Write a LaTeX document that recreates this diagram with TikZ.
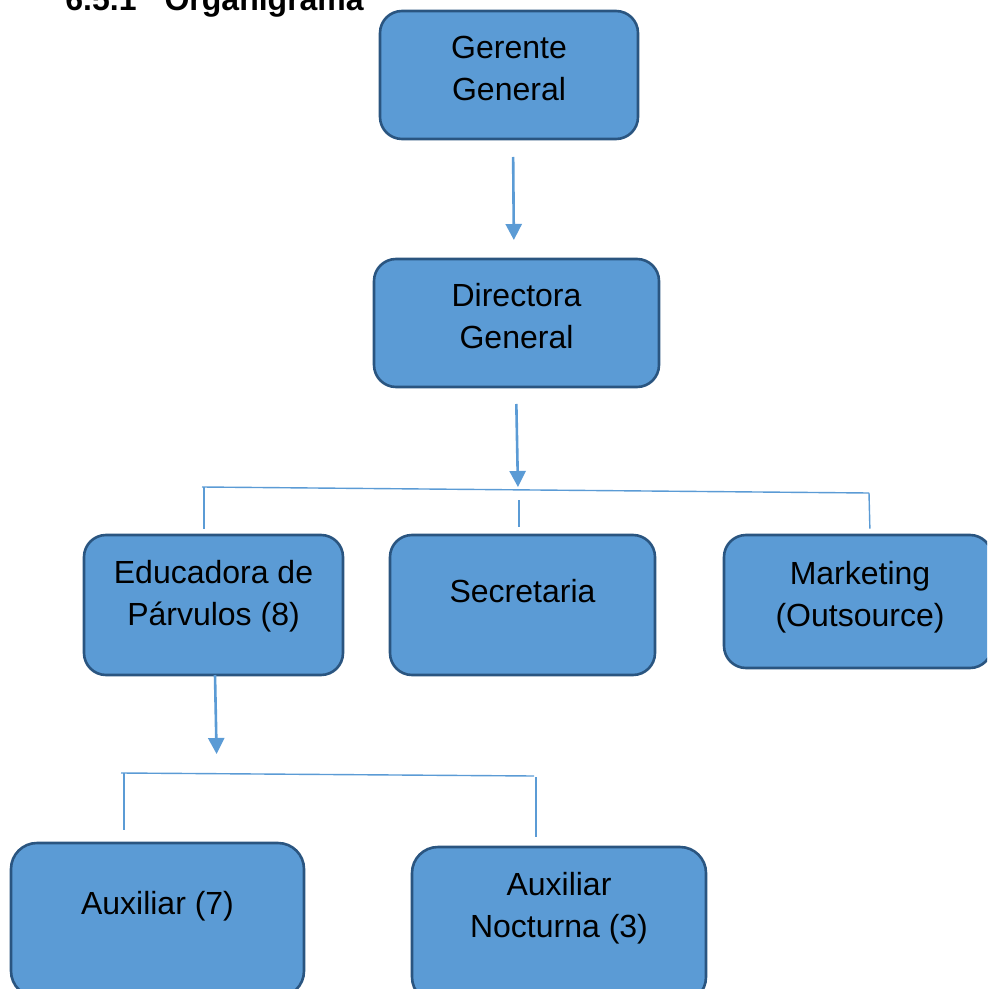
\documentclass[tikz,border=0pt]{standalone}
\usepackage{fontspec}
\setmainfont{Liberation Sans}
\usepackage{tikz}
\usetikzlibrary{arrows.meta, positioning, calc}
\usepackage{xcolor}
\definecolor{boxfill}{HTML}{5B9BD5}
\definecolor{boxline}{HTML}{2A5580}
\definecolor{linkblue}{HTML}{5B9BD5}

\begin{document}
\begin{tikzpicture}[
    x=0.5pt, y=-0.5pt,
    >={Triangle[width=8pt, length=8pt]},
    orgbox/.style={draw=boxline, fill=boxfill, line width=1.3pt, rounded corners=11pt, inner sep=0pt},
    boxtext/.style={align=center, font=\fontsize{16pt}{21pt}\selectfont, inner sep=0pt},
    arrowlink/.style={->, draw=linkblue, line width=1.3pt},
    buslink/.style={draw=linkblue, line width=0.7pt},
  ]
    \clip (0,0) rectangle (987,989);
    % titulo
    \node[anchor=base west, font=\fontsize{16pt}{19pt}\selectfont\bfseries, inner sep=0pt] (title) at (65,11) {6.5.1\hspace{14pt}Organigrama};
    % cajas
    \node[orgbox, minimum width=129pt, minimum height=64pt, label={[boxtext, yshift=3.5pt]center:Gerente\\General}] (gerente) at (509,75) {};
    \node[orgbox, minimum width=142.5pt, minimum height=64pt, label={[boxtext, yshift=3.5pt]center:Directora\\General}] (directora) at (516.5,323) {};
    \node[orgbox, minimum width=129.5pt, minimum height=70pt, label={[boxtext, yshift=4.5pt]center:Educadora de\\Párvulos (8)}] (educadora) at (213.5,605) {};
    \node[orgbox, minimum width=132.5pt, minimum height=70pt, label={[boxtext, yshift=7pt]center:Secretaria}] (secretaria) at (522.5,605) {};
    \node[orgbox, minimum width=134pt, minimum height=66.5pt, label={[boxtext, yshift=2pt, xshift=1pt]center:Marketing\\(Outsource)}] (marketing) at (858,601.5) {};
    \node[orgbox, minimum width=146.5pt, minimum height=77pt, rounded corners=13pt, label={[boxtext, yshift=7pt]center:Auxiliar (7)}] (auxiliar) at (157.5,920) {};
    \node[orgbox, minimum width=147pt, minimum height=78pt, rounded corners=13pt, label={[boxtext, yshift=8.5pt]center:Auxiliar\\Nocturna (3)}] (nocturna) at (559,925) {};
    % puntos de las lineas
    \coordinate (g1) at (513,139);
    \coordinate (d1) at (514,259);
    \coordinate (d2) at (516,387);
    \coordinate (busA) at (518,490);
    \coordinate (busL) at (202,487);
    \coordinate (busR) at (869,493);
    \coordinate (e1) at (215,675);
    \coordinate (busB) at (217,774);
    \coordinate (busBL) at (121,773);
    \coordinate (busBR) at (534,776);
    % flechas
    \draw[arrowlink, shorten <=9pt, shorten >=9.5pt] (g1) -- (d1);
    \draw[arrowlink, shorten <=8.5pt, shorten >=1.5pt] (d2) -- (busA);
    \draw[arrowlink, shorten >=10pt] (e1) -- (busB);
    % lineas
    \draw[buslink] (busL) -- (busR);
    \draw[buslink, shorten >=2.5pt] (busL -| 204,0) -- (educadora.north -| 204,0);
    \draw[buslink, shorten <=5pt, shorten >=3.5pt] (519,490) -- (secretaria.north -| 519,0);
    \draw[buslink, shorten >=2.5pt] (busR) -- (marketing.north -| 870,0);
    \draw[buslink] (busBL) -- (busBR);
    \draw[buslink, shorten >=6pt] (busBL -| 124,0) -- (auxiliar.north -| 124,0);
    \draw[buslink, shorten >=4.5pt] (536,777) -- (nocturna.north -| 536,0);
\end{tikzpicture}
\end{document}
